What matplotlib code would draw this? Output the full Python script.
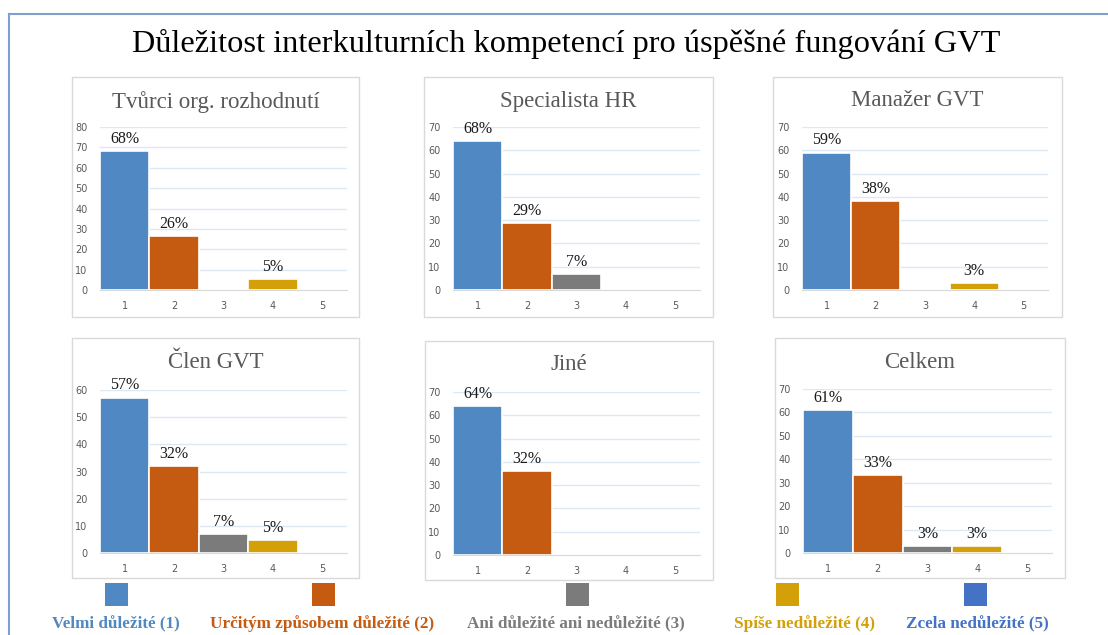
import numpy as np
import matplotlib.pyplot as plt
from matplotlib.patches import Rectangle
from matplotlib.lines import Line2D

# data
kategorie = [1, 2, 3, 4, 5]
legenda = ["Velmi důležité (1)", "Určitým způsobem důležité (2)",
           "Ani důležité ani nedůležité (3)", "Spíše nedůležité (4)",
           "Zcela nedůležité (5)"]
nazvy = ["Tvůrci org. rozhodnutí", "Specialista HR", "Manažer GVT",
         "Člen GVT", "Jiné", "Celkem"]
tvurci = [68, 26.4, 0, 5.2, 0]
specialista = [64, 28.9, 6.9, 0, 0]
manazer = [59, 38.1, 0, 3.1, 0]
clen = [57.2, 32, 6.9, 4.7, 0]
jine = [64, 35.9, 0, 0, 0]
celkem = [61, 33.1, 2.9, 3, 0]
tvurci_pop = ["68%", "26%", "", "5%", ""]
specialista_pop = ["68%", "29%", "7%", "", ""]
manazer_pop = ["59%", "38%", "", "3%", ""]
clen_pop = ["57%", "32%", "7%", "5%", ""]
jine_pop = ["64%", "32%", "", "", ""]
celkem_pop = ["61%", "33%", "3%", "3%", ""]
ymax = [80, 70, 70, 60, 70, 70]

hodnoty = [tvurci, specialista, manazer, clen, jine, celkem]
popisky = [tvurci_pop, specialista_pop, manazer_pop, clen_pop, jine_pop, celkem_pop]

barvy = ["#4f88c2", "#c55a11", "#7b7b7b", "#d4a00a", "#4472c4"]
barvy_text = ["#5088c0", "#c55a11", "#7b7b7b", "#d4a00a", "#4472c4"]

W, H = 1108, 635
fig = plt.figure(figsize=(W/100, H/100), dpi=100)
serif = "Liberation Serif"

def fx(x):
    return x / W

def fy(y):
    return 1 - y / H

# ramecek celeho obrazku
fig.add_artist(Line2D([fx(9), 1.0], [fy(14), fy(14)], color="#7f9fcf", lw=1.5))
fig.add_artist(Line2D([fx(9), fx(9)], [fy(14), 0.0], color="#7f9fcf", lw=1.5))

fig.text(fx(566), fy(44), "Důležitost interkulturních kompetencí pro úspěšné fungování GVT",
         ha="center", va="center", fontsize=23.3, family=serif, color="black")

# (box x0, x1, y0, y1), (osa x0, x1, y nula, y top)
boxy = [(72, 359, 77, 317), (424, 713, 77, 317), (773, 1062, 77, 317),
        (72, 359, 338, 578), (425, 713, 341, 580), (775, 1065, 338, 578)]
osy = [(100, 347, 290, 127), (453, 700, 290, 127), (802, 1048, 290, 127),
       (100, 347, 553, 390), (453, 700, 555, 392), (803, 1052, 553, 389)]
titul_y = [102, 101, 101, 363, 365, 363]

for i in range(6):
    bx0, bx1, by0, by1 = boxy[i]
    fig.add_artist(Rectangle((fx(bx0), fy(by1)), fx(bx1 - bx0), (by1 - by0) / H,
                             fill=False, edgecolor="#d9d9d9", lw=1.0))
    fig.text(fx((bx0 + bx1) / 2), fy(titul_y[i]), nazvy[i], ha="center", va="center",
             fontsize=16.5, family=serif, color="#595959")

    ax0, ax1, ay0, ay1 = osy[i]
    ax = fig.add_axes([fx(ax0), fy(ay0), fx(ax1 - ax0), (ay0 - ay1) / H])
    bars = ax.bar(kategorie, hodnoty[i], width=1.0, color=barvy, edgecolor="white",
                  linewidth=1.2, zorder=3)
    for b, t in zip(bars, popisky[i]):
        if t:
            ax.annotate(t, (b.get_x() + b.get_width() / 2, b.get_height()),
                        xytext=(0, 3), textcoords="offset points", ha="center",
                        va="bottom", fontsize=11.5, family=serif, color="#1a1a1a",
                        zorder=4)
    ax.set_xlim(0.5, 5.5)
    ax.set_ylim(0, ymax[i])
    ax.set_yticks(np.arange(0, ymax[i] + 1, 10))
    ax.set_xticks(kategorie)
    ax.yaxis.grid(True, color="#dce9f5", lw=1.0, zorder=0)
    ax.set_axisbelow(True)
    for s in ["top", "right", "left"]:
        ax.spines[s].set_visible(False)
    ax.spines["bottom"].set_color("#d9d9d9")
    ax.spines["bottom"].set_zorder(5)
    ax.tick_params(length=0, labelsize=7, labelcolor="#595959")
    ax.tick_params(axis="x", pad=8)
    ax.tick_params(axis="y", pad=9)
    ax.patch.set_alpha(0)

# legenda
leg_ctv = [116, 323, 577, 787, 975]
leg_txt = [116, 322, 576, 805, 977]
for i in range(5):
    fig.add_artist(Rectangle((fx(leg_ctv[i] - 11.5), fy(606)), fx(23), 23 / H,
                             facecolor=barvy[i], edgecolor="none"))
    fig.text(fx(leg_txt[i]), fy(624), legenda[i], ha="center", va="center",
             fontsize=12.3, family=serif, weight="bold", color=barvy_text[i])

fig.savefig("out.png", dpi=100)
